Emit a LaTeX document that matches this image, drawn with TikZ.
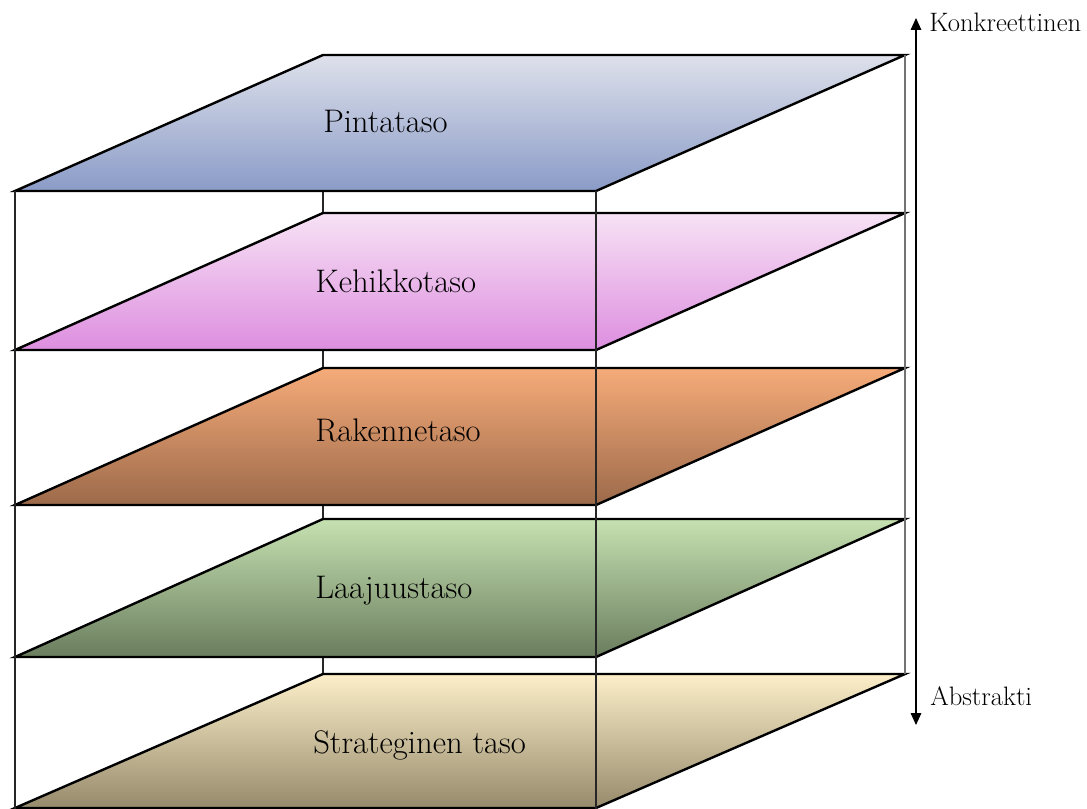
\documentclass[tikz,border=0pt]{standalone}
\usetikzlibrary{arrows.meta}
\definecolor{p1t}{HTML}{DEE1EB}\definecolor{p1b}{HTML}{8A9BC7}
\definecolor{p2t}{HTML}{F7E2F5}\definecolor{p2b}{HTML}{DD8EDF}
\definecolor{p3t}{HTML}{F6AB79}\definecolor{p3b}{HTML}{9C6A4A}
\definecolor{p4t}{HTML}{C6E1B1}\definecolor{p4b}{HTML}{6A7D5E}
\definecolor{p5t}{HTML}{FCEFC9}\definecolor{p5b}{HTML}{968A6C}
\tikzset{
  plane/.style={draw=black, line width=1.8pt, line join=miter},
  thinline/.style={draw=black!85, line width=0.8pt},
  greyline/.style={draw=black!55, line width=0.9pt},
  lbl/.style={anchor=base west, inner sep=0pt, font=\fontsize{24.5}{28}\selectfont},
  axlbl/.style={anchor=base west, inner sep=0pt, font=\fontsize{20}{24}\selectfont},
  axis/.style={line width=0.8pt, {Triangle[length=9pt,width=8pt]}-{Triangle[length=9pt,width=8pt]}}
}
\newcommand{\plane}[4]{% top y, bottom y, top colour, bottom colour
  \path[plane, top color=#3, bottom color=#4] (323,#1) -- (905,#1) -- (596,#2) -- (15,#2) -- cycle;}
\begin{document}
\begin{tikzpicture}[x=0.75pt,y=-0.75pt]
\useasboundingbox (0,0) rectangle (1087,809);
% hidden back-left edge
\draw[thinline] (323,191) -- (323,674);
% planes
\plane{55}{191}{p1t}{p1b}
\plane{213}{350}{p2t}{p2b}
\plane{368}{505}{p3t}{p3b}
\plane{519}{657}{p4t}{p4b}
\plane{674}{808}{p5t}{p5b}
% visible vertical edges
\draw[thinline] (15,191) -- (15,809);
\draw[thinline] (596,191) -- (596,809);
\draw[greyline] (905,55) -- (905,674);
% labels
\node[lbl] (l1) at (323,133) {Pintataso};
\node[lbl] (l2) at (315,292) {Kehikkotaso};
\node[lbl] (l3) at (315,441) {Rakennetaso};
\node[lbl] (l4) at (315,598) {Laajuustaso};
\node[lbl] (l5) at (313,753) {Strateginen taso};
% axis
\coordinate (top) at (916,18);
\coordinate (bot) at (916,725);
\draw[axis] (top) -- (bot);
\node[axlbl] (k) at (929,32) {Konkreettinen};
\node[axlbl] (a) at (930,705) {Abstrakti};
\end{tikzpicture}
\end{document}
